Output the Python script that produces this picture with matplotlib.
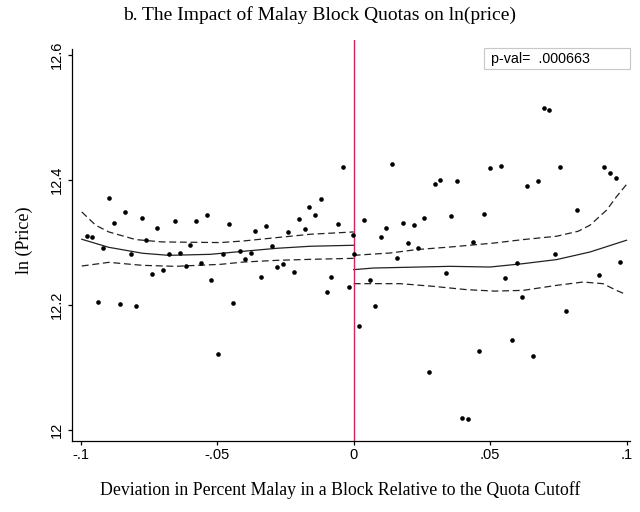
import matplotlib
matplotlib.use("Agg")
import matplotlib.pyplot as plt
from matplotlib.patches import Rectangle

# scatter data (binned means)
x_pts = [-0.0976, -0.0957, -0.0935, -0.0917, -0.0897, -0.0877, -0.0856, -0.0838, -0.0816, -0.0799,
         -0.0776, -0.0759, -0.0737, -0.0720, -0.0697, -0.0678, -0.0656, -0.0638, -0.0616, -0.0599,
         -0.0577, -0.0560, -0.0537, -0.0521, -0.0498, -0.0480, -0.0458, -0.0441, -0.0418, -0.0400,
         -0.0378, -0.0360, -0.0338, -0.0320, -0.0298, -0.0281, -0.0258, -0.0241, -0.0219, -0.0202,
         -0.0178, -0.0162, -0.0140, -0.0121, -0.0099, -0.0082, -0.0059, -0.0041, -0.0019, -0.0003,
         0.0000, 0.0021, 0.0038, 0.0060, 0.0078, 0.0099, 0.0118, 0.0140, 0.0158, 0.0180,
         0.0198, 0.0219, 0.0237, 0.0259, 0.0277, 0.0299, 0.0316, 0.0339, 0.0356, 0.0378,
         0.0397, 0.0419, 0.0436, 0.0459, 0.0476, 0.0498, 0.0538, 0.0555, 0.0578, 0.0597,
         0.0617, 0.0635, 0.0657, 0.0676, 0.0698, 0.0716, 0.0738, 0.0755, 0.0778, 0.0817,
         0.0897, 0.0918, 0.0937, 0.0959, 0.0977]
y_pts = [12.3106, 12.3090, 12.2054, 12.2909, 12.3705, 12.3320, 12.2022, 12.3490, 12.2813, 12.1979,
         12.3394, 12.3048, 12.2503, 12.3240, 12.2567, 12.2813, 12.3337, 12.2840, 12.2620, 12.2968,
         12.3337, 12.2680, 12.3438, 12.2407, 12.1221, 12.2813, 12.3304, 12.2038, 12.2872, 12.2737,
         12.2833, 12.3181, 12.2444, 12.3261, 12.2952, 12.2604, 12.2657, 12.3165, 12.2524, 12.3378,
         12.3218, 12.3570, 12.3438, 12.3689, 12.2215, 12.2444, 12.3304, 12.4202, 12.2288, 12.3128,
         12.2813, 12.1670, 12.3357, 12.2407, 12.1979, 12.3085, 12.3240, 12.4250, 12.2760, 12.3320,
         12.2989, 12.3277, 12.2913, 12.3394, 12.0933, 12.3939, 12.3994, 12.2508, 12.3417, 12.3982,
         12.0196, 12.0173, 12.3010, 12.1263, 12.3454, 12.4191, 12.4228, 12.2428, 12.1439, 12.2680,
         12.2135, 12.3902, 12.1183, 12.3982, 12.5147, 12.5120, 12.2813, 12.4212, 12.1904, 12.3518,
         12.2487, 12.4212, 12.4115, 12.4035, 12.2696]

# fitted lines, left of cutoff
xl_fit = [-0.0996, -0.0898, -0.0773, -0.0678, -0.0525, -0.0404, -0.0280, -0.0159, 0.0]
yl_fit = [12.3053, 12.2925, 12.2829, 12.2796, 12.2812, 12.2861, 12.2909, 12.2941, 12.2957]
xl_hi = [-0.0996, -0.0945, -0.0897, -0.0799, -0.0701, -0.0488, -0.0403, -0.0281, -0.0159, 0.0]
yl_hi = [12.3490, 12.3277, 12.3170, 12.3048, 12.3010, 12.3000, 12.3026, 12.3080, 12.3133, 12.3170]
xl_lo = [-0.0996, -0.0897, -0.0774, -0.0653, -0.0488, -0.0403, -0.0281, -0.0159, 0.0]
yl_lo = [12.2625, 12.2684, 12.2636, 12.2620, 12.2652, 12.2689, 12.2716, 12.2732, 12.2748]

# fitted lines, right of cutoff
xr_fit = [0.0, 0.0072, 0.0353, 0.0499, 0.0621, 0.0743, 0.0865, 0.0999]
yr_fit = [12.2567, 12.2593, 12.2620, 12.2609, 12.2663, 12.2728, 12.2849, 12.3037]
xr_hi = [0.0, 0.0133, 0.0231, 0.0353, 0.0517, 0.0621, 0.0743, 0.0822, 0.0865, 0.0926, 0.0962, 0.0999]
yr_hi = [12.2796, 12.2833, 12.2888, 12.2929, 12.2994, 12.3048, 12.3101, 12.3181, 12.3277, 12.3518, 12.3731, 12.3929]
xr_lo = [0.0, 0.0170, 0.0292, 0.0414, 0.0517, 0.0621, 0.0743, 0.0840, 0.0913, 0.0962, 0.0999]
yr_lo = [12.2343, 12.2343, 12.2300, 12.2247, 12.2224, 12.2236, 12.2316, 12.2369, 12.2343, 12.2236, 12.2167]

xticks = [-0.1, -0.05, 0, 0.05, 0.1]
xticklabels = ["-.1", "-.05", "0", ".05", ".1"]
yticks = [12, 12.2, 12.4, 12.6]
yticklabels = ["12", "12.2", "12.4", "12.6"]

fig = plt.figure(figsize=(6.4, 5.12), dpi=100)
ax = fig.add_axes([0.112, 0.139, 0.872, 0.783])

dash = (0, (5.5, 3))
lc = "#222222"
ax.plot(xl_fit, yl_fit, color=lc, lw=0.9)
ax.plot(xl_hi, yl_hi, color=lc, lw=0.9, linestyle=dash)
ax.plot(xl_lo, yl_lo, color=lc, lw=0.9, linestyle=dash)
ax.plot(xr_fit, yr_fit, color=lc, lw=0.9)
ax.plot(xr_hi, yr_hi, color=lc, lw=0.9, linestyle=dash)
ax.plot(xr_lo, yr_lo, color=lc, lw=0.9, linestyle=dash)
ax.scatter(x_pts, y_pts, s=11, color="black", zorder=3, linewidths=0)
ax.axvline(0, color="#d4245a", lw=1.0, zorder=2)

ax.set_xlim(-0.1033, 0.1011)
ax.set_ylim(11.983, 12.624)

for s in ["top", "right"]:
    ax.spines[s].set_visible(False)
ax.spines["left"].set_bounds(11.983, 12.61)
ax.spines["left"].set_linewidth(0.9)
ax.spines["bottom"].set_linewidth(0.9)

ax.set_xticks(xticks)
ax.set_xticklabels(xticklabels, fontfamily="Liberation Sans", fontsize=10.5)
ax.set_yticks(yticks)
ax.set_yticklabels(yticklabels, fontfamily="Liberation Sans", fontsize=10.5,
                   rotation=90, va="center")
ax.tick_params(direction="out", length=3, width=0.9, colors="black", pad=2.5)

ax.set_ylabel("ln (Price)", fontfamily="Liberation Serif", fontsize=13, labelpad=12)
fig.text(340 / 640, 0.043, "Deviation in Percent Malay in a Block Relative to the Quota Cutoff",
         ha="center", va="center", fontfamily="Liberation Serif", fontsize=12.8)
fig.text(0.5, 0.97, "b. The Impact of Malay Block Quotas on ln(price)",
         ha="center", va="center", fontfamily="Liberation Serif", fontsize=14)

# p-value box
fig.patches.append(Rectangle((484 / 640, 1 - 69 / 512), 146 / 640, 21 / 512,
                             transform=fig.transFigure, fc="white", ec="#c8c8c8", lw=0.8,
                             zorder=5))
fig.text(491 / 640, 1 - 58.5 / 512, "p-val=  .000663", fontfamily="Liberation Sans",
         fontsize=10.3, ha="left", va="center", zorder=6)

fig.savefig("out.png", dpi=100, facecolor="white")
